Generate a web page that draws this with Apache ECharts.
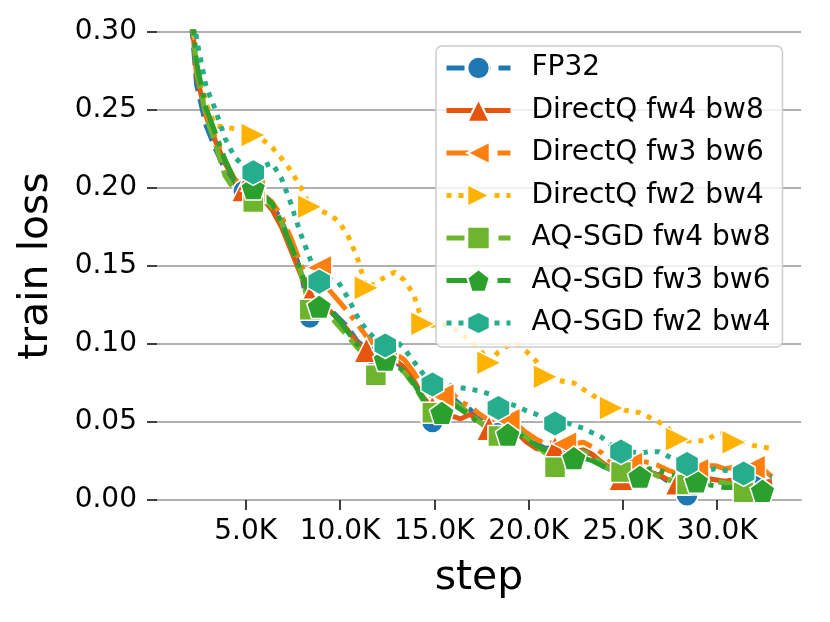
<!doctype html>
<html>
<head>
<meta charset="utf-8">
<script src="https://cdn.jsdelivr.net/npm/echarts@6/dist/echarts.min.js"></script>
<style>
  html, body { margin: 0; padding: 0; background: #fff; }
  #chart { width: 830px; height: 622px; }
</style>
</head>
<body>
<div id="chart"></div>
<script>
// training steps (shared by every run)
var STEPS = [1900, 2400, 2900, 3400, 3900, 4400, 4900, 5400, 5900, 6400,
  6900, 7400, 7900, 8400, 8900, 9400, 9900, 10400, 10900, 11400,
  11900, 12400, 12900, 13400, 13900, 14400, 14900, 15400, 15900, 16400,
  16900, 17400, 17900, 18400, 18900, 19400, 19900, 20400, 20900, 21400,
  21900, 22400, 22900, 23400, 23900, 24400, 24900, 25400, 25900, 26400,
  26900, 27400, 27900, 28400, 28900, 29400, 29900, 30400, 30900, 31400,
  31900, 32400, 32900];

var FP32 = [0.340, 0.266, 0.240, 0.225, 0.212, 0.203, 0.198, 0.196, 0.194, 0.189,
  0.179, 0.164, 0.148, 0.117, 0.124, 0.123, 0.117, 0.111, 0.102, 0.097,
  0.092, 0.090, 0.089, 0.084, 0.076, 0.065, 0.050, 0.063, 0.066, 0.061,
  0.058, 0.052, 0.047, 0.043, 0.046, 0.044, 0.040, 0.036, 0.033, 0.034,
  0.032, 0.032, 0.032, 0.029, 0.022, 0.019, 0.017, 0.019, 0.020, 0.018,
  0.016, 0.012, 0.007, 0.003, 0.006, 0.011, 0.012, 0.011, 0.012, 0.010,
  0.011, 0.010, 0.009];

var DQ_FW4_BW8 = [0.345, 0.272, 0.246, 0.230, 0.216, 0.205, 0.199, 0.196, 0.193, 0.186,
  0.175, 0.160, 0.145, 0.130, 0.124, 0.122, 0.116, 0.109, 0.101, 0.096,
  0.093, 0.091, 0.090, 0.085, 0.077, 0.066, 0.059, 0.058, 0.054, 0.052,
  0.055, 0.050, 0.046, 0.043, 0.045, 0.043, 0.037, 0.033, 0.032, 0.033,
  0.031, 0.031, 0.032, 0.029, 0.024, 0.020, 0.014, 0.018, 0.020, 0.018,
  0.016, 0.013, 0.011, 0.010, 0.012, 0.014, 0.013, 0.012, 0.013, 0.011,
  0.012, 0.011, 0.012];

var DQ_FW3_BW6 = [0.348, 0.276, 0.248, 0.232, 0.218, 0.206, 0.200, 0.198, 0.196, 0.191,
  0.182, 0.168, 0.152, 0.137, 0.149, 0.135, 0.128, 0.121, 0.113, 0.105,
  0.099, 0.096, 0.094, 0.090, 0.082, 0.072, 0.066, 0.067, 0.069, 0.063,
  0.060, 0.055, 0.051, 0.048, 0.051, 0.048, 0.043, 0.039, 0.036, 0.037,
  0.036, 0.036, 0.037, 0.034, 0.030, 0.024, 0.022, 0.023, 0.025, 0.024,
  0.022, 0.019, 0.017, 0.016, 0.019, 0.022, 0.022, 0.020, 0.021, 0.019,
  0.021, 0.020, 0.015];

var DQ_FW2_BW4 = [0.352, 0.282, 0.254, 0.240, 0.239, 0.238, 0.237, 0.234, 0.231, 0.226,
  0.219, 0.211, 0.201, 0.188, 0.186, 0.183, 0.179, 0.170, 0.156, 0.136,
  0.139, 0.143, 0.146, 0.141, 0.132, 0.113, 0.112, 0.113, 0.111, 0.107,
  0.102, 0.097, 0.088, 0.095, 0.099, 0.100, 0.095, 0.089, 0.079, 0.077,
  0.076, 0.075, 0.071, 0.067, 0.064, 0.059, 0.058, 0.057, 0.056, 0.053,
  0.050, 0.046, 0.039, 0.038, 0.038, 0.038, 0.042, 0.043, 0.037, 0.037,
  0.035, 0.034, 0.033];

var AQ_FW4_BW8 = [0.342, 0.275, 0.246, 0.228, 0.208, 0.199, 0.195, 0.191, 0.193, 0.188,
  0.178, 0.163, 0.147, 0.122, 0.125, 0.119, 0.112, 0.105, 0.098, 0.092,
  0.080, 0.087, 0.087, 0.082, 0.074, 0.064, 0.056, 0.062, 0.064, 0.060,
  0.055, 0.050, 0.045, 0.041, 0.046, 0.045, 0.040, 0.035, 0.030, 0.021,
  0.030, 0.030, 0.031, 0.028, 0.023, 0.019, 0.018, 0.019, 0.019, 0.018,
  0.015, 0.013, 0.012, 0.010, 0.011, 0.012, 0.012, 0.011, 0.010, 0.005,
  0.009, 0.008, 0.006];

var AQ_FW3_BW6 = [0.350, 0.280, 0.251, 0.235, 0.218, 0.205, 0.200, 0.200, 0.196, 0.190,
  0.178, 0.163, 0.148, 0.130, 0.124, 0.122, 0.116, 0.108, 0.100, 0.096,
  0.093, 0.090, 0.088, 0.082, 0.075, 0.065, 0.060, 0.056, 0.062, 0.058,
  0.054, 0.049, 0.046, 0.043, 0.042, 0.043, 0.039, 0.035, 0.032, 0.031,
  0.029, 0.027, 0.027, 0.025, 0.022, 0.019, 0.017, 0.016, 0.015, 0.020,
  0.019, 0.017, 0.015, 0.013, 0.012, 0.010, 0.009, 0.008, 0.008, 0.009,
  0.008, 0.006, 0.006];

var AQ_FW2_BW4 = [0.360, 0.295, 0.265, 0.250, 0.232, 0.220, 0.214, 0.210, 0.214, 0.216,
  0.206, 0.190, 0.171, 0.155, 0.140, 0.142, 0.140, 0.130, 0.118, 0.109,
  0.103, 0.099, 0.103, 0.097, 0.089, 0.081, 0.074, 0.076, 0.073, 0.072,
  0.071, 0.070, 0.068, 0.059, 0.062, 0.060, 0.057, 0.055, 0.052, 0.049,
  0.050, 0.048, 0.046, 0.043, 0.040, 0.035, 0.031, 0.031, 0.030, 0.031,
  0.031, 0.028, 0.025, 0.023, 0.021, 0.019, 0.020, 0.019, 0.018, 0.017,
  0.016, 0.015, 0.015];

// which points carry a marker
var MARKS_FP32 = [6, 13, 20, 26, 33, 40, 46, 53, 60];
var MARKS_DQ4 = [6, 13, 19, 26, 32, 39, 46, 52, 59];
var MARKS_DQ3 = [7, 14, 21, 27, 34, 40, 47, 54, 60];
var MARKS_DQ2 = [7, 13, 19, 25, 32, 38, 45, 52, 58];
var MARKS_AQ4 = [7, 13, 20, 26, 33, 39, 46, 53, 59];
var MARKS_AQ3 = [7, 14, 21, 27, 34, 41, 48, 54, 61];
var MARKS_AQ2 = [7, 14, 21, 26, 33, 39, 46, 53, 59];

var X_TICKS = [5000, 10000, 15000, 20000, 25000, 30000];

var TRI_LEFT = 'path://M0,5L10,0L10,10Z';
var TRI_RIGHT = 'path://M10,5L0,0L0,10Z';
var PENTAGON = 'path://M0,-1L0.951,-0.309L0.588,0.809L-0.588,0.809L-0.951,-0.309Z';
var HEXAGON = 'path://M0,-1L0.866,-0.5L0.866,0.5L0,1L-0.866,0.5L-0.866,-0.5Z';

var LW = 5;
var DASHED = [18, 8];
var DASHDOT = [30, 8, 5, 8];
var DOTTED = [5, 7];

var runs = [
  { name: 'FP32', vals: FP32, marks: MARKS_FP32, color: '#1f77b4', symbol: 'circle', size: 22, dash: DASHED },
  { name: 'DirectQ fw4 bw8', vals: DQ_FW4_BW8, marks: MARKS_DQ4, color: '#e6550d', symbol: 'triangle', size: 25, dash: 'solid' },
  { name: 'DirectQ fw3 bw6', vals: DQ_FW3_BW6, marks: MARKS_DQ3, color: '#ff7f0e', symbol: TRI_LEFT, size: 25, dash: DASHDOT },
  { name: 'DirectQ fw2 bw4', vals: DQ_FW2_BW4, marks: MARKS_DQ2, color: '#ffb300', symbol: TRI_RIGHT, size: 25, dash: DOTTED },
  { name: 'AQ-SGD fw4 bw8', vals: AQ_FW4_BW8, marks: MARKS_AQ4, color: '#6cb52d', symbol: 'rect', size: 21, dash: DASHED },
  { name: 'AQ-SGD fw3 bw6', vals: AQ_FW3_BW6, marks: MARKS_AQ3, color: '#2ca02c', symbol: PENTAGON, size: [25, 24], dash: DASHDOT },
  { name: 'AQ-SGD fw2 bw4', vals: AQ_FW2_BW4, marks: MARKS_AQ2, color: '#26ad8e', symbol: HEXAGON, size: [23, 26], dash: DOTTED }
];

function makeSeries(r) {
  return {
    name: r.name,
    type: 'line',
    data: STEPS.map(function (s, i) { return [s, r.vals[i]]; }),
    symbol: r.symbol,
    showSymbol: true,
    showAllSymbol: true,
    symbolSize: function (v, p) { return r.marks.indexOf(p.dataIndex) >= 0 ? r.size : 0; },
    lineStyle: { color: r.color, width: LW, type: r.dash },
    itemStyle: { color: r.color, borderColor: '#ffffff', borderWidth: 1.5 },
    emphasis: { disabled: true },
    clip: true
  };
}

var chart = echarts.init(document.getElementById('chart'));
chart.setOption({
  animation: false,
  textStyle: { fontFamily: 'DejaVu Sans' },
  grid: { left: 157, right: 29, top: 32, bottom: 122 },
  legend: {
    orient: 'vertical',
    left: 436,
    top: 46,
    padding: [8, 12, 10, 8],
    itemWidth: 64,
    itemHeight: 28,
    itemGap: 14.5,
    backgroundColor: 'rgba(255,255,255,0.8)',
    borderColor: '#cccccc',
    borderWidth: 1.5,
    borderRadius: 6,
    textStyle: { fontSize: 28, color: '#000', fontFamily: 'DejaVu Sans', padding: [0, 0, 0, 16] },
    data: runs.map(function (r) {
      return { name: r.name, lineStyle: { width: LW, type: r.dash, color: r.color } };
    })
  },
  xAxis: {
    type: 'value',
    min: 297,
    max: 34443,
    name: 'step',
    nameLocation: 'middle',
    nameGap: 58,
    nameTextStyle: { fontSize: 41, color: '#000' },
    axisLine: { show: true, lineStyle: { color: '#b0b0b0', width: 1.8 } },
    axisTick: { show: true, length: 10, customValues: X_TICKS, lineStyle: { color: '#000', width: 1.5 } },
    axisLabel: {
      fontSize: 28, color: '#000', margin: 18, customValues: X_TICKS,
      formatter: function (v) { return (v / 1000).toFixed(1) + 'K'; }
    },
    splitLine: { show: false }
  },
  yAxis: {
    type: 'value',
    min: 0,
    max: 0.3,
    interval: 0.05,
    name: 'train loss',
    nameLocation: 'middle',
    nameGap: 100,
    nameTextStyle: { fontSize: 41, color: '#000' },
    axisLine: { show: false },
    axisTick: { show: true, length: 10, lineStyle: { color: '#000', width: 1.5 } },
    axisLabel: {
      fontSize: 28, color: '#000', margin: 20,
      formatter: function (v) { return v.toFixed(2); }
    },
    splitLine: { show: true, lineStyle: { color: '#b0b0b0', width: 1.8 } }
  },
  series: runs.map(makeSeries)
});
</script>
</body>
</html>
